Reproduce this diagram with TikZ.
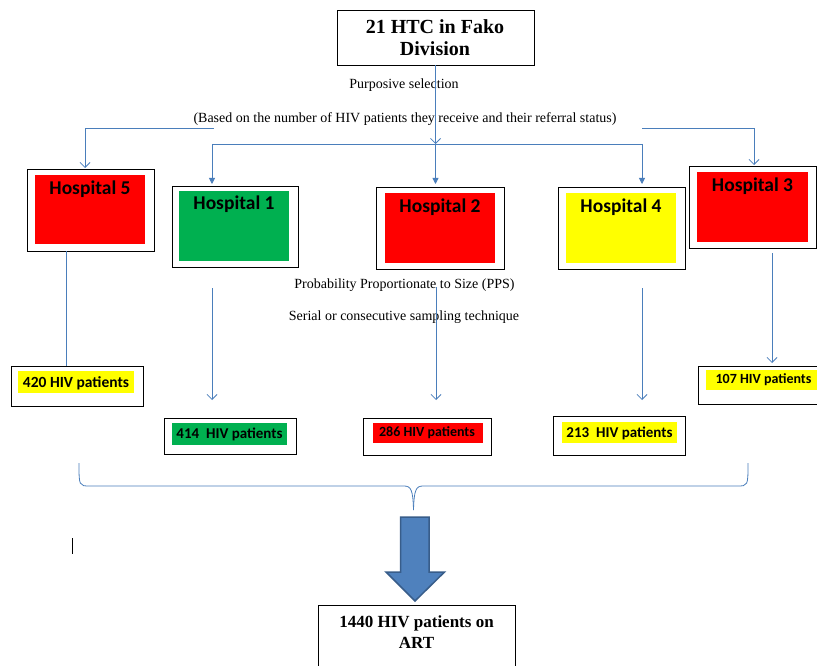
\documentclass[tikz,border=0pt]{standalone}
\usepackage{fontspec}
\setmainfont{Liberation Serif}
\newfontfamily\calfont{Carlito}
\usetikzlibrary{arrows.meta,fit}
\definecolor{lblue}{HTML}{4A7EBB}
\definecolor{hred}{HTML}{FF0000}
\definecolor{hgreen}{HTML}{00B050}
\definecolor{hyellow}{HTML}{FFFF00}
\definecolor{arrfill}{HTML}{4F81BD}
\definecolor{arrline}{HTML}{385D8A}
\tikzset{
  wbox/.style={draw=black, line width=1pt, fill=white, inner sep=0pt, outer sep=0pt},
  cbox/.style={inner sep=0pt, outer sep=0pt},
  con/.style={draw=lblue, line width=0.8pt},
  vtip/.style={-{Straight Barb[length=5pt,width=10pt,line width=0.8pt]}},
  ftip/.style={-{Triangle[length=6pt,width=6pt]}},
  serif/.style={font=\fontsize{14}{16}\selectfont, inner sep=0pt, anchor=base},
  bserif/.style={font=\bfseries\fontsize{#1}{#1}\selectfont, inner sep=0pt, anchor=base},
  hlab/.style={font=\calfont\bfseries\fontsize{19.5}{20}\selectfont, inner sep=0pt, anchor=base},
  plab/.style={font=\calfont\bfseries\fontsize{#1}{#1}\selectfont, inner sep=0pt, anchor=base},
}
\begin{document}
\begin{tikzpicture}[x=1pt,y=-1pt]
\useasboundingbox (0,0) rectangle (817,666);
\fill[white] (0,0) rectangle (817,666);

% top box
\node[wbox, fit={(337,10.5) (534,65.5)}] (top) {};
\node[bserif=20] (top1) at (435,34) {21 HTC in Fako};
\node[bserif=20] (top2) at (435,55.5) {Division};

% texts
\node[serif] (purp) at (404,89) {Purposive selection};
\node[serif] (based) at (405,123) {(Based on the number of HIV patients they receive and their referral status)};
\node[serif] (pps) at (404.5,288) {Probability Proportionate to Size (PPS)};
\node[serif] (serial) at (404,320) {Serial or consecutive sampling technique};

% hospitals
\node[wbox, fit={(27,170) (154,251)}] (h5) {};
\node[cbox, fill=hred, fit={(35,175) (145,244)}] (h5i) {};
\node[hlab] (h5t) at (90,194) {Hospital 5};

\node[wbox, fit={(172,187) (298,267)}] (h1) {};
\node[cbox, fill=hgreen, fit={(179,191) (289,261)}] (h1i) {};
\node[hlab] (h1t) at (234,210) {Hospital 1};

\node[wbox, fit={(376,188) (504,269)}] (h2) {};
\node[cbox, fill=hred, fit={(385,193) (495,263)}] (h2i) {};
\node[hlab] (h2t) at (440,212) {Hospital 2};

\node[wbox, fit={(558,188) (685,269)}] (h4) {};
\node[cbox, fill=hyellow, fit={(566,193) (676,263)}] (h4i) {};
\node[hlab] (h4t) at (621,212) {Hospital 4};

\node[wbox, fit={(689,167) (816,248)}] (h3) {};
\node[cbox, fill=hred, fit={(697,172) (808,242)}] (h3i) {};
\node[hlab] (h3t) at (752.5,191) {Hospital 3};

% patient boxes
\node[wbox, fit={(11,366) (143,406)}] (p420) {};
\node[cbox, fill=hyellow, fit={(18,371) (134,393)}] (p420i) {};
\node[plab=15.5] (p420t) at (76,387) {420 HIV patients};

\node[wbox, fit={(164,418) (296,454)}] (p414) {};
\node[cbox, fill=hgreen, fit={(172,423) (287,445)}] (p414i) {};
\node[plab=15] (p414t) at (229.5,438) {414\ \ HIV patients};

\node[wbox, fit={(363,418) (491,455)}] (p286) {};
\node[cbox, fill=hred, fit={(373,423) (483,443)}] (p286i) {};
\node[plab=14] (p286t) at (427,436) {286 HIV patients};

\node[wbox, fit={(553,416) (685,455)}] (p213) {};
\node[cbox, fill=hyellow, fit={(562,422) (677,443)}] (p213i) {};
\node[plab=15] (p213t) at (619.5,437) {213\ \ HIV patients};

\node[wbox, fit={(698,366) (822,404)}] (p107) {};
\node[cbox, fill=hyellow, fit={(706,370) (822,390)}] (p107i) {};
\node[plab=14] (p107t) at (763.5,383) {107 HIV patients};

% bottom box
\node[wbox, fit={(318,605) (515,690)}] (fin) {};
\node[bserif=17] (fin1) at (416.5,627) {1440 HIV patients on};
\node[bserif=17] (fin2) at (416.5,648.5) {ART};

% junction coordinates
\coordinate (jc) at (435.5,144);
\coordinate (jl) at (212,144);
\coordinate (jr) at (642,144);
\coordinate (ll) at (85,128);
\coordinate (lr) at (213.5,128);
\coordinate (rl) at (642,128);
\coordinate (rr) at (754,128);

% top connectors
\draw[con, vtip] (top.south) -- (jc);
\draw[con] (jl) -- (jr);
\draw[con, ftip, shorten >=3pt] (jl) -- (jl |- h1.north);
\draw[con, ftip, shorten >=4pt] (jc) -- (jc |- h2.north);
\draw[con, ftip, shorten >=4pt] (jr) -- (jr |- h4.north);
\draw[con, vtip, shorten >=2pt] (lr) -- (ll) -- (ll |- h5.north);
\draw[con, vtip, shorten >=2pt] (rl) -- (rr) -- (rr |- h3.north);

% lower connectors
\coordinate (s5) at (66,0);
\draw[con] (s5 |- h5.south) -- (s5 |- p420.north);
\coordinate (a1s) at (212,288);
\coordinate (a1e) at (212,400);
\draw[con, vtip] (a1s) -- (a1e);
\coordinate (a2s) at (436,287);
\coordinate (a2e) at (436,400);
\draw[con, vtip] (a2s) -- (a2e);
\coordinate (a4s) at (642,288);
\coordinate (a4e) at (642,400);
\draw[con, vtip] (a4s) -- (a4e);
\coordinate (a3s) at (772,253);
\coordinate (a3e) at (772,363);
\draw[con, vtip] (a3s) -- (a3e);

% brace
\draw[con] (79,463) .. controls (79,486) and (79,486) .. (90,486) -- (404,486)
  .. controls (411,486) and (413,490) .. (413.5,510);
\draw[con] (748,463) .. controls (748,486) and (748,486) .. (737,486) -- (423,486)
  .. controls (416,486) and (414,490) .. (413.5,510);

% big arrow
\draw[fill=arrfill, draw=arrline, line width=1.5pt, line join=miter]
  (400.5,517) -- (429,517) -- (429,572) -- (444.5,572) -- (415,601)
  -- (386,572) -- (400.5,572) -- cycle;

% cursor mark
\draw[black, line width=0.8pt] (72,538) -- (72,554);
\end{tikzpicture}
\end{document}
